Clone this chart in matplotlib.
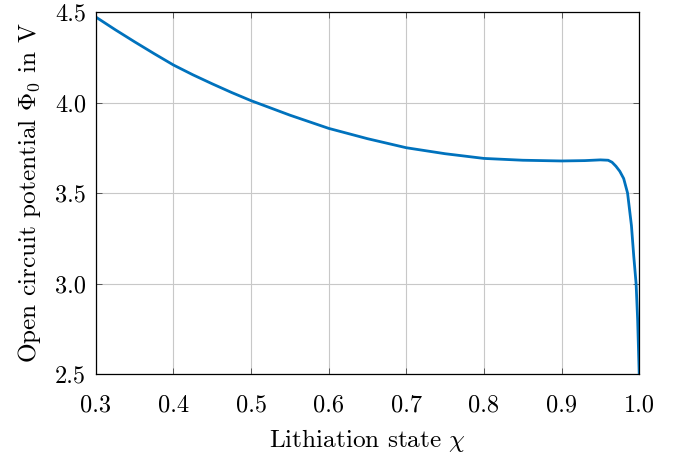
import numpy as np
import matplotlib
matplotlib.use("Agg")
import matplotlib.pyplot as plt

# values
chi = [0.30, 0.325, 0.35, 0.375, 0.40, 0.425, 0.45, 0.475, 0.50, 0.55,
       0.60, 0.65, 0.70, 0.75, 0.80, 0.85, 0.90, 0.93, 0.95, 0.96, 0.965,
       0.97, 0.975, 0.98, 0.985, 0.99, 0.993, 0.996, 0.998, 1.0]
phi0 = [4.472, 4.402, 4.335, 4.270, 4.207, 4.153, 4.103, 4.055, 4.010,
        3.930, 3.857, 3.800, 3.750, 3.717, 3.691, 3.681, 3.677, 3.679,
        3.683, 3.681, 3.670, 3.648, 3.620, 3.580, 3.500, 3.320, 3.150,
        3.000, 2.800, 2.500]
xticks = [0.3, 0.4, 0.5, 0.6, 0.7, 0.8, 0.9, 1.0]
yticks = [2.5, 3.0, 3.5, 4.0, 4.5]

plt.rcParams['font.family'] = 'serif'
plt.rcParams['font.serif'] = ['cmr10', 'DejaVu Serif']
plt.rcParams['mathtext.fontset'] = 'cm'
plt.rcParams['axes.formatter.use_mathtext'] = True

fig = plt.figure(figsize=(6.8, 4.58), dpi=100)
ax = fig.add_axes([0.141, 0.1834, 0.799, 0.7904])

ax.plot(chi, phi0, color='#0072BD', lw=2.0, solid_joinstyle='round')

ax.set_xlim(0.3, 1.0)
ax.set_ylim(2.5, 4.5)
ax.set_xticks(xticks)
ax.set_yticks(yticks)
ax.set_xticklabels(['%.1f' % v for v in xticks])
ax.set_yticklabels(['%.1f' % v for v in yticks])
ax.grid(True, color='#c8c8c8', lw=0.8)
ax.set_axisbelow(True)
ax.tick_params(direction='in', length=4, width=0.6, top=True, right=True,
               labelsize=17.5, color='#444444')
ax.tick_params(axis='x', pad=15)
ax.tick_params(axis='y', pad=7)
for s in ax.spines.values():
    s.set_linewidth(0.9)

ax.set_xlabel(r'Lithiation state $\chi$', fontsize=18.2, labelpad=7)
ax.set_ylabel(r'Open circuit potential $\Phi_0$ in V', fontsize=18.2, labelpad=9)

fig.savefig('out.png', dpi=100)
